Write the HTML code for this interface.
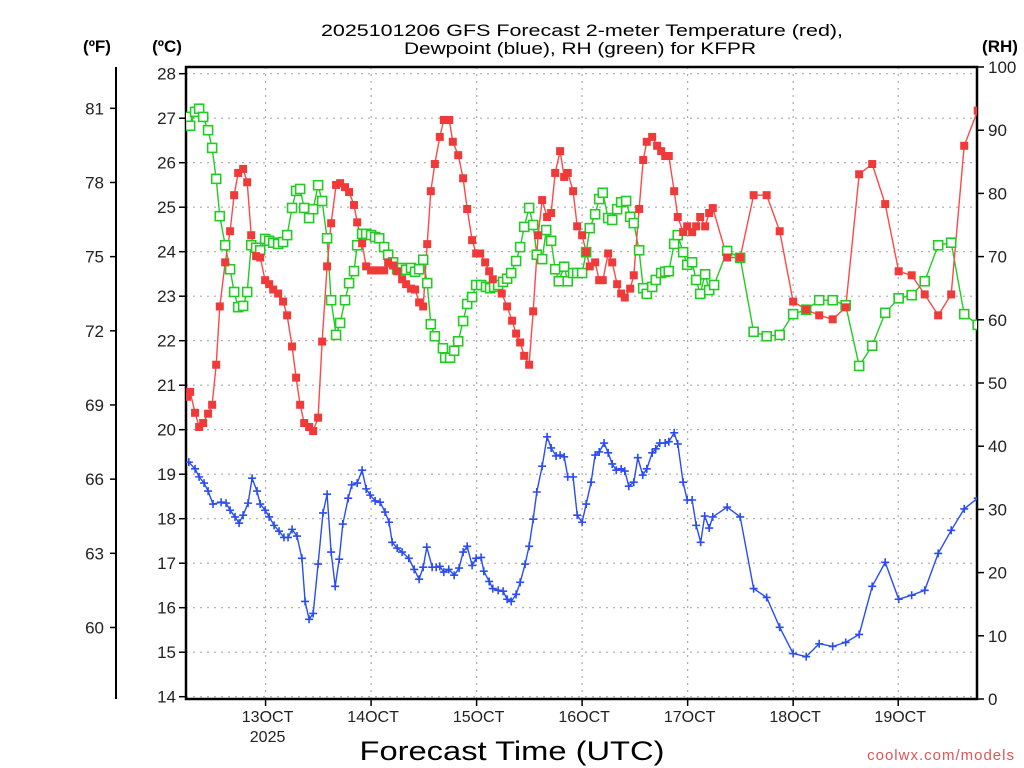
<!DOCTYPE html>
<html><head><meta charset="utf-8"><title>KFPR GFS Forecast</title>
<style>
html,body{margin:0;padding:0;background:#fff;}
svg{display:block;font-family:"Liberation Sans",sans-serif;}
</style></head>
<body>
<svg id="chart" width="1024" height="768" viewBox="0 0 1024 768" xmlns="http://www.w3.org/2000/svg">
<rect x="0" y="0" width="1024" height="768" fill="#fff"/>
<g font-size="17" fill="#000" text-anchor="middle">
<text x="582" y="36" textLength="522" lengthAdjust="spacingAndGlyphs">2025101206 GFS Forecast 2-meter Temperature (red),</text>
<text x="580" y="54" textLength="352" lengthAdjust="spacingAndGlyphs">Dewpoint (blue), RH (green) for KFPR</text>
</g>
<text x="97" y="52" font-size="17" font-weight="bold" text-anchor="middle">(ºF)</text>
<text x="167" y="52" font-size="17" font-weight="bold" text-anchor="middle">(ºC)</text>
<text x="1000" y="52" font-size="17" font-weight="bold" text-anchor="middle">(RH)</text>
<g id="grid"></g>
<g id="axes"></g>
<defs><clipPath id="plotclip"><rect x="186" y="60" width="791" height="640"/></clipPath></defs>
<g id="series" clip-path="url(#plotclip)"></g>
<text x="512" y="760" font-size="27" text-anchor="middle" textLength="305" lengthAdjust="spacingAndGlyphs">Forecast Time (UTC)</text>
<text x="1015" y="760" font-size="15" fill="#e05555" text-anchor="end" letter-spacing="1">coolwx.com/models</text>
</svg>
<script>
// ---- data ----
const tempTimes = [8.0,8.7,9.8,10.7,11.6,12.7,13.6,14.5,15.3,16.5,17.6,18.5,19.4,20.5,21.4,22.3,23.4,24.3,25.4,26.3,27.2,28.3,29.4,30.3,31.4,32.3,33.2,34.1,35.2,36.1,37.2,38.1,39.2,40.1,41.2,42.1,43.2,44.1,45.2,45.9,47.0,47.9,49.0,49.9,50.8,51.9,52.8,53.9,54.8,55.9,56.8,57.9,58.8,59.7,60.6,61.5,62.3,63.2,64.3,65.2,66.4,67.2,68.4,69.5,70.4,
71.5,72.4,73.3,74.4,75.3,76.1,78.1,79.3,80.4,81.3,82.2,83.1,84.2,85.1,86.2,87.1,88.2,89.1,90.0,91.1,92.0,92.8,94.0,94.9,96.0,96.9,97.7,98.9,99.8,100.6,101.8,102.7,103.8,104.7,105.5,106.7,107.5,108.7,109.6,110.4,111.6,112.7,113.6,114.5,115.3,116.5,117.3,118.5,119.4,120.5,121.4,122.3,123.4,124.3,125.1,
128.3,131.2,134.2,137.1,140.0,143.0,145.9,148.8,151.8,154.7,157.7,160.6,163.5,166.5,169.4,172.3,175.3,178.2,181.1,184.1];
const tempC = [20.74,20.85,20.38,20.06,20.15,20.36,20.56,21.46,22.77,23.76,24.46,25.27,25.77,25.86,25.56,24.37,23.90,23.87,23.36,23.27,23.15,23.06,22.88,22.57,21.87,21.17,20.56,20.15,20.06,19.97,20.27,21.98,23.67,24.64,25.50,25.54,25.45,25.34,25.05,24.66,24.19,23.67,23.58,23.58,23.58,23.58,23.76,23.69,23.56,23.38,23.27,23.17,23.15,22.86,22.77,24.17,25.36,25.97,26.58,26.96,26.96,26.47,26.17,25.65,24.96,
24.26,23.96,23.96,23.76,23.56,23.38,23.06,22.77,22.45,22.16,21.96,21.66,21.46,22.66,24.37,25.16,24.78,24.87,25.77,26.26,25.68,25.77,25.36,24.57,24.37,23.99,23.67,23.76,23.36,23.36,23.96,23.76,23.27,23.06,22.97,23.17,23.47,24.96,26.06,26.47,26.58,26.38,26.26,26.15,26.15,25.36,24.78,24.44,24.57,24.44,24.57,24.78,24.57,24.87,24.98,
23.87,23.87,25.27,25.27,24.46,22.88,22.70,22.57,22.48,22.75,25.74,25.97,25.07,23.56,23.47,23.04,22.57,23.04,26.38,27.17];
const rhTimes = [8.0,8.7,9.8,10.7,11.6,12.7,13.6,14.5,15.3,16.5,17.6,18.5,19.4,20.5,21.4,22.3,23.4,24.3,25.4,26.3,27.2,28.3,29.4,30.3,31.4,32.3,33.2,34.1,35.2,36.1,37.2,38.1,39.2,40.1,41.2,42.1,43.2,44.1,45.2,45.9,47.0,47.9,49.0,49.9,50.8,51.9,52.8,53.9,54.8,55.9,56.8,57.9,58.8,59.7,60.6,61.5,62.3,63.2,
65.0,65.5,66.6,67.5,68.4,69.5,70.4,71.5,72.4,73.5,74.6,75.5,76.4,77.3,78.4,79.3,80.2,81.3,82.2,83.1,84.2,85.1,85.9,87.1,88.0,89.1,90.0,90.8,92.0,92.8,94.0,94.9,96.0,96.9,97.7,98.9,99.8,100.6,101.8,102.7,103.8,104.7,105.8,106.7,107.5,108.7,109.6,110.4,111.6,112.4,113.6,114.5,115.3,116.5,117.3,118.5,119.4,120.5,121.4,122.3,123.4,124.3,125.4,
128.3,131.2,134.2,137.1,140.0,143.0,145.9,148.8,151.8,154.7,157.7,160.6,163.5,166.5,169.4,172.3,175.3,178.2,181.1,184.1];
const rhPct = [92.1,90.7,92.9,93.4,92.1,90.0,87.2,82.3,76.4,71.8,68.0,64.4,62.0,62.2,64.4,71.8,71.4,71.0,72.8,72.5,72.2,72.0,72.3,73.4,77.7,80.4,80.7,77.7,76.1,77.5,81.3,78.8,72.9,63.1,57.6,59.5,63.1,65.8,67.7,71.8,73.6,73.6,73.4,73.1,72.9,71.5,70.3,69.1,68.0,68.2,67.9,68.2,67.6,68.0,69.5,65.8,59.3,57.4,
55.5,54.0,54.0,55.1,56.6,59.8,62.5,63.6,65.5,65.5,65.2,65.0,65.2,65.5,66.0,66.5,67.4,69.3,71.5,74.7,77.7,75.0,70.3,69.6,74.2,72.5,68.0,66.1,68.4,66.1,67.4,67.4,67.4,70.7,74.5,76.7,79.1,80.1,76.1,75.8,77.5,78.6,78.8,76.3,75.3,71.0,65.0,64.1,65.2,66.3,67.4,67.6,67.7,72.0,73.4,70.7,68.7,69.1,66.3,64.1,67.2,64.7,65.5,
70.9,69.8,58.1,57.4,57.6,60.9,61.6,63.1,63.1,62.3,52.7,55.9,61.1,63.4,63.9,66.1,71.8,72.2,60.9,59.2];
const dewTimes = [8.4,9.8,10.7,11.8,12.7,13.8,15.6,16.7,17.6,18.7,19.6,20.5,21.6,22.5,23.6,24.3,25.4,26.3,27.4,28.5,29.6,30.5,31.4,32.5,33.6,34.3,35.2,36.1,37.2,38.3,39.2,40.1,41.0,41.9,42.7,43.9,44.7,45.9,47.0,47.9,48.8,49.9,51.0,52.1,53.0,53.7,54.8,55.9,57.4,58.6,59.7,60.6,61.4,62.6,63.5,64.3,65.2,66.3,67.5,68.6,69.5,70.4,71.5,72.4,73.5,74.1,75.3,76.1,77.3,78.4,79.3,80.2,81.3,82.2,83.3,84.2,85.1,85.9,87.1,88.2,89.1,90.2,91.1,92.0,92.8,94.0,94.9,96.0,96.9,98.0,98.9,99.8,100.9,101.8,102.7,103.6,104.7,105.5,106.4,107.5,108.4,109.5,110.4,111.6,112.4,113.3,114.5,115.3,116.5,117.3,118.5,119.4,120.5,121.4,122.4,123.3,124.3,125.1,
128.3,131.2,134.2,137.1,140.0,143.0,145.9,148.8,151.8,154.7,157.7,160.6,163.5,166.5,169.4,172.3,175.3,178.2,181.1,184.1];
const dewC = [19.27,19.12,18.94,18.80,18.62,18.33,18.37,18.35,18.19,18.04,17.90,18.08,18.35,18.91,18.62,18.33,18.19,18.04,17.85,17.72,17.58,17.58,17.76,17.61,17.11,16.14,15.74,15.87,16.98,18.13,18.55,17.25,16.48,17.09,17.88,18.46,18.76,18.80,19.09,18.67,18.53,18.40,18.37,18.15,17.92,17.47,17.34,17.25,17.11,16.86,16.64,16.91,17.36,16.91,16.91,16.93,16.80,16.86,16.73,16.89,17.25,17.38,16.95,17.11,17.13,16.82,16.59,16.43,16.39,16.37,16.19,16.14,16.30,16.57,16.98,17.38,17.99,18.60,19.18,19.84,19.59,19.41,19.43,19.39,18.94,18.94,18.08,17.92,18.33,18.82,19.43,19.50,19.70,19.48,19.23,19.09,19.12,19.07,18.73,18.82,19.37,18.98,19.12,19.48,19.57,19.70,19.70,19.73,19.93,19.68,18.82,18.42,18.42,17.85,17.47,18.06,17.79,18.04,
18.26,18.04,16.43,16.23,15.56,14.97,14.90,15.19,15.13,15.22,15.40,16.48,17.02,16.19,16.28,16.39,17.22,17.74,18.22,18.46];
const dayTickTimes = [25.5,49.0,72.5,96.0,119.5,143.0,166.4];
const dayTickLabels = ['13OCT','14OCT','15OCT','16OCT','17OCT','18OCT','19OCT'];
const celsiusTicks = [14,15,16,17,18,19,20,21,22,23,24,25,26,27,28];
const fahrenheitTicks = [60,63,66,69,72,75,78,81];
const rhTicks = [0,10,20,30,40,50,60,70,80,90,100];

// ---- scales ----
const X0 = 186, X1 = 977, YT = 67, YB = 699;
const xScale = t => 187 + (t - 8) * 4.49;
const yC = c => 696.7 - (c - 14) * 44.5;
const yF = f => yC((f - 32) * 5 / 9);
const yRH = r => 699 - r * 6.32;
const NS = 'http://www.w3.org/2000/svg';
function mk(tag, attrs, parent) {
  const e = document.createElementNS(NS, tag);
  for (const k in attrs) e.setAttribute(k, attrs[k]);
  parent.appendChild(e);
  return e;
}
const grid = document.getElementById('grid');
const axes = document.getElementById('axes');
const series = document.getElementById('series');

// grid
celsiusTicks.forEach(c => {
  const y = yC(c);
  const l = mk('line', {x1: X0, x2: X1, y1: y, y2: y, stroke: '#aaa', 'stroke-width': 1.2, 'stroke-dasharray': '2,5'}, grid);
  
  
});
dayTickTimes.forEach(t => {
  const x = xScale(t);
  const l = mk('line', {x1: x, x2: x, y1: YT, y2: YB, stroke: '#aaa', 'stroke-width': 1.2, 'stroke-dasharray': '2,5'}, grid);
  
  
});

// frame
const frame = mk('path', {d: `M${X0},${YT} H${X1} V${YB} H${X0} Z`, fill: 'none', stroke: '#000', 'stroke-width': 2.5}, axes);


const fLine = mk('line', {x1: 116, x2: 116, y1: 67, y2: 699, stroke: '#000', 'stroke-width': 2}, axes);



// celsius ticks
celsiusTicks.forEach(c => {
  const y = yC(c);
  mk('line', {x1: X0 - 7, x2: X0, y1: y, y2: y, stroke: '#000', 'stroke-width': 1.5}, axes);
  const t = mk('text', {x: X0 - 10, y: y + 6, 'font-size': 17, 'text-anchor': 'end', fill: '#222'}, axes);
  t.textContent = c;
  
  
});
fahrenheitTicks.forEach(f => {
  const y = yF(f);
  mk('line', {x1: 110, x2: 116, y1: y, y2: y, stroke: '#000', 'stroke-width': 1.5}, axes);
  const t = mk('text', {x: 104, y: y + 6, 'font-size': 17, 'text-anchor': 'end', fill: '#222'}, axes);
  t.textContent = f;
  
  
});
rhTicks.forEach(r => {
  const y = yRH(r);
  mk('line', {x1: X1, x2: X1 + 7, y1: y, y2: y, stroke: '#000', 'stroke-width': 1.5}, axes);
  const t = mk('text', {x: 988, y: y + 6, 'font-size': 17, 'text-anchor': 'start', fill: '#222'}, axes);
  t.textContent = r;
  
  
});
dayTickTimes.forEach((tt, i) => {
  const x = xScale(tt);
  mk('line', {x1: x, x2: x, y1: YB, y2: YB + 7, stroke: '#000', 'stroke-width': 1.5}, axes);
  const t = mk('text', {x: x + 2, y: YB + 23, 'font-size': 16, 'text-anchor': 'middle', fill: '#222'}, axes);
  t.textContent = dayTickLabels[i];
  
  
});
const yr = mk('text', {x: xScale(dayTickTimes[0]) + 2, y: YB + 43, 'font-size': 16, 'text-anchor': 'middle', fill: '#222'}, axes);
yr.textContent = '2025';



// series
function drawLine(times, vals, yfn, color, name) {
  const pts = times.map((t, i) => xScale(t).toFixed(1) + ',' + yfn(vals[i]).toFixed(1)).join(' ');
  const pl = mk('polyline', {points: pts, fill: 'none', stroke: color, 'stroke-width': 1.4}, series);
  
  
}
drawLine(rhTimes, rhPct, yRH, '#22cc22', 'rh-line');
drawLine(dewTimes, dewC, yC, '#2a4cf5', 'dewpoint-line');
drawLine(tempTimes, tempC, yC, '#ff4848', 'temperature-line');

rhTimes.forEach((t, i) => {
  const x = xScale(t), y = yRH(rhPct[i]);
  const m = mk('rect', {x: x - 4.5, y: y - 4.5, width: 9, height: 9, fill: '#fff', stroke: '#22cc22', 'stroke-width': 1.6}, series);
  
  
});
dewTimes.forEach((t, i) => {
  const x = xScale(t), y = yC(dewC[i]);
  const m = mk('path', {d: `M${x-4},${y} H${x+4} M${x},${y-4} V${y+4}`, stroke: '#2a4cf5', 'stroke-width': 1.6}, series);
  
  
});
tempTimes.forEach((t, i) => {
  const x = xScale(t), y = yC(tempC[i]);
  const m = mk('rect', {x: x - 4, y: y - 4, width: 8, height: 8, fill: '#f03a3a'}, series);
  
  
});
</script>
</body></html>
